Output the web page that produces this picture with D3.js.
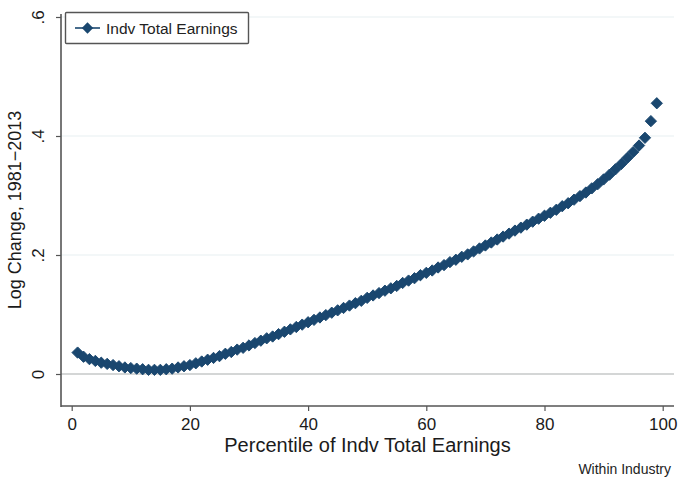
<!DOCTYPE html>
<html>
<head>
<meta charset="utf-8">
<script src="https://cdn.jsdelivr.net/npm/d3@7"></script>
<style>
  html, body { margin: 0; padding: 0; background: #fff; }
  svg { display: block; font-family: "Liberation Sans", Arial, Helvetica, sans-serif; }
</style>
</head>
<body>
<svg id="chart" width="681" height="477"></svg>
<script>
// Percentiles of individual total earnings
const percentiles = d3.range(1, 100);

// Log change in earnings, 1981–2013, within industry
const logChange = [
  0.036, 0.029, 0.025, 0.022, 0.019, 0.017, 0.015, 0.013, 0.011, 0.010,
  0.009, 0.008, 0.007, 0.007, 0.007, 0.008, 0.009, 0.011, 0.013, 0.015,
  0.018, 0.021, 0.024, 0.027, 0.030, 0.034, 0.037, 0.041, 0.044, 0.048,
  0.052, 0.056, 0.060, 0.063, 0.067, 0.071, 0.075, 0.079, 0.083, 0.087,
  0.091, 0.095, 0.099, 0.103, 0.107, 0.111, 0.115, 0.119, 0.123, 0.128,
  0.132, 0.136, 0.140, 0.144, 0.148, 0.153, 0.157, 0.161, 0.166, 0.170,
  0.174, 0.179, 0.183, 0.188, 0.192, 0.197, 0.201, 0.206, 0.211, 0.216,
  0.221, 0.226, 0.231, 0.236, 0.241, 0.246, 0.251, 0.256, 0.261, 0.266,
  0.271, 0.276, 0.282, 0.287, 0.293, 0.299, 0.305, 0.312, 0.319, 0.327,
  0.335, 0.344, 0.353, 0.363, 0.373, 0.384, 0.397, 0.425, 0.455
];

const xTicks = [0, 20, 40, 60, 80, 100];
const yTicks = [0, 0.2, 0.4, 0.6];
const yTickLabels = ["0", ".2", ".4", ".6"];

const seriesName = "Indv Total Earnings";
const xTitle = "Percentile of Indv Total Earnings";
const yTitle = "Log Change, 1981\u22122013";
const note = "Within Industry";

const navy = "#1a476f";
const ink = "#1b1b1b";

const svg = d3.select("#chart");

// Plot region
const plotLeft = 61, plotRight = 674, plotTop = 14, plotBottom = 406;

const x = d3.scaleLinear().domain([0, 100]).range([71.7, 662.7]);
const y = d3.scaleLinear().domain([0, 0.6]).range([374, 17]);

// Grid lines
svg.append("g")
  .selectAll("line")
  .data(yTicks)
  .join("line")
  .attr("x1", plotLeft).attr("x2", plotRight)
  .attr("y1", d => y(d)).attr("y2", d => y(d))
  .attr("stroke", d => d === 0 ? "#c6c9c9" : "#e8eff1")
  .attr("stroke-width", d => d === 0 ? 1.6 : 1.2);

// Y axis
const yAxis = svg.append("g").attr("transform", `translate(${plotLeft},0)`)
  .call(d3.axisLeft(y).tickValues(yTicks).tickSize(5).tickSizeOuter(0)
    .tickFormat((d, i) => yTickLabels[i]));
yAxis.select(".domain").remove();
yAxis.append("line")
  .attr("x1", 0).attr("x2", 0).attr("y1", plotTop).attr("y2", plotBottom + 1)
  .attr("stroke", "#555").attr("stroke-width", 1.6);
yAxis.selectAll(".tick line").attr("stroke", "#555").attr("stroke-width", 1.2);
yAxis.selectAll(".tick text")
  .attr("x", 0).attr("y", 0).attr("dy", null)
  .attr("transform", "translate(-17,0) rotate(-90)")
  .attr("text-anchor", "middle")
  .attr("font-size", 17)
  .attr("font-family", "Liberation Sans, Arial, sans-serif")
  .attr("fill", ink);

// X axis
const xAxis = svg.append("g").attr("transform", `translate(0,${plotBottom})`)
  .call(d3.axisBottom(x).tickValues(xTicks).tickSize(5).tickSizeOuter(0)
    .tickFormat(d3.format("d")));
xAxis.select(".domain").remove();
xAxis.append("line")
  .attr("x1", plotLeft).attr("x2", plotRight).attr("y1", 0).attr("y2", 0)
  .attr("stroke", "#555").attr("stroke-width", 1.6);
xAxis.selectAll(".tick line").attr("stroke", "#555").attr("stroke-width", 1.2);
xAxis.selectAll(".tick text")
  .attr("y", 24).attr("dy", null)
  .attr("font-size", 17)
  .attr("font-family", "Liberation Sans, Arial, sans-serif")
  .attr("fill", ink);

// Axis titles
svg.append("text")
  .attr("x", (plotLeft + plotRight) / 2).attr("y", 452)
  .attr("text-anchor", "middle")
  .attr("font-size", 20).attr("fill", ink)
  .text(xTitle);

svg.append("text")
  .attr("transform", `translate(21,${(plotTop + plotBottom) / 2}) rotate(-90)`)
  .attr("text-anchor", "middle")
  .attr("font-size", 18).attr("fill", ink)
  .text(yTitle);

// Note
svg.append("text")
  .attr("x", 671).attr("y", 474)
  .attr("text-anchor", "end")
  .attr("font-size", 14).attr("fill", "#222")
  .text(note);

// Markers: diamonds (rotated squares)
const diamond = d3.symbol().type(d3.symbolSquare).size(64);
const data = percentiles.map((p, i) => ({ p, v: logChange[i] }));

svg.append("g")
  .selectAll("path")
  .data(data)
  .join("path")
  .attr("d", diamond)
  .attr("transform", d => `translate(${x(d.p)},${y(d.v)}) rotate(45)`)
  .attr("fill", navy)
  .attr("stroke", navy)
  .attr("stroke-width", 0.9);

// Legend
const legend = svg.append("g");
legend.append("rect")
  .attr("x", 65.5).attr("y", 12.5).attr("width", 183).attr("height", 31)
  .attr("fill", "#fff").attr("stroke", "#555").attr("stroke-width", 1.4)
  .attr("rx", 1);
legend.append("line")
  .attr("x1", 75).attr("x2", 100).attr("y1", 28).attr("y2", 28)
  .attr("stroke", navy).attr("stroke-width", 1.6);
legend.append("path")
  .attr("d", diamond)
  .attr("transform", "translate(87.5,28) rotate(45)")
  .attr("fill", navy);
legend.append("text")
  .attr("x", 106).attr("y", 33.5)
  .attr("font-size", 15.5).attr("fill", "#222")
  .text(seriesName);
</script>
</body>
</html>
